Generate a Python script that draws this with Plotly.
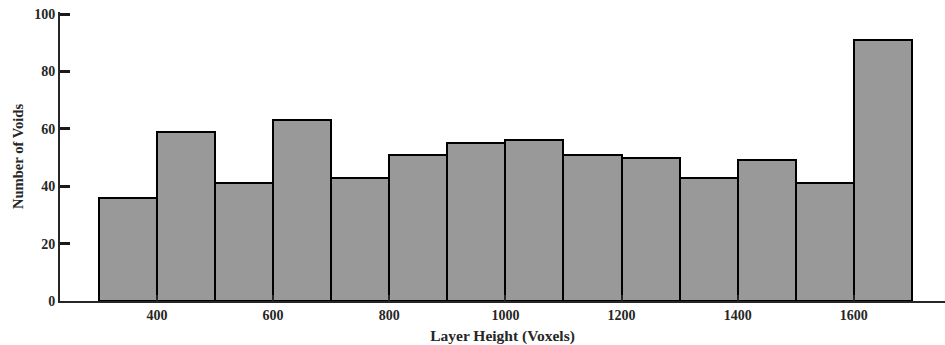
import plotly.graph_objects as go

bin_centers = [350, 450, 550, 650, 750, 850, 950, 1050, 1150, 1250, 1350, 1450, 1550, 1650]
void_counts = [36, 59, 41, 63, 43, 51, 55, 56, 51, 50, 43, 49, 41, 91]
x_ticks = [400, 600, 800, 1000, 1200, 1400, 1600]
y_ticks = [0, 20, 40, 60, 80, 100]

serif = "Liberation Serif, Times New Roman, serif"
tick_font = dict(family=serif, size=14, color="#262626", weight="bold")

fig = go.Figure(go.Bar(
    x=bin_centers, y=void_counts, width=100,
    marker=dict(color="#999999", line=dict(color="#000000", width=2)),
))
fig.update_layout(
    width=945, height=345,
    margin=dict(l=60, r=0, t=12, b=44),
    plot_bgcolor="white", paper_bgcolor="white",
    showlegend=False, bargap=0,
    font=dict(family=serif, size=13, color="#262626"),
)
fig.update_xaxes(
    range=[233, 1757], tickvals=x_ticks, ticks="inside", ticklen=6, tickwidth=2,
    tickcolor="#262626", showline=True, linecolor="#262626", linewidth=2,
    showgrid=False, zeroline=False,
    title=dict(text="<b>Layer Height (Voxels)</b>", standoff=10,
               font=dict(family=serif, size=15.5, color="#262626")),
    tickfont=tick_font,
)
fig.update_yaxes(
    range=[0, 100.7], tickvals=y_ticks, ticks="inside", ticklen=10, tickwidth=2.5,
    tickcolor="#1a1a1a", showline=True, linecolor="#262626", linewidth=2,
    showgrid=False, zeroline=False,
    title=dict(text="<b>Number of Voids</b>", standoff=7,
               font=dict(family=serif, size=14.6, color="#262626")),
    tickfont=tick_font,
)
fig.write_html("out.html")
